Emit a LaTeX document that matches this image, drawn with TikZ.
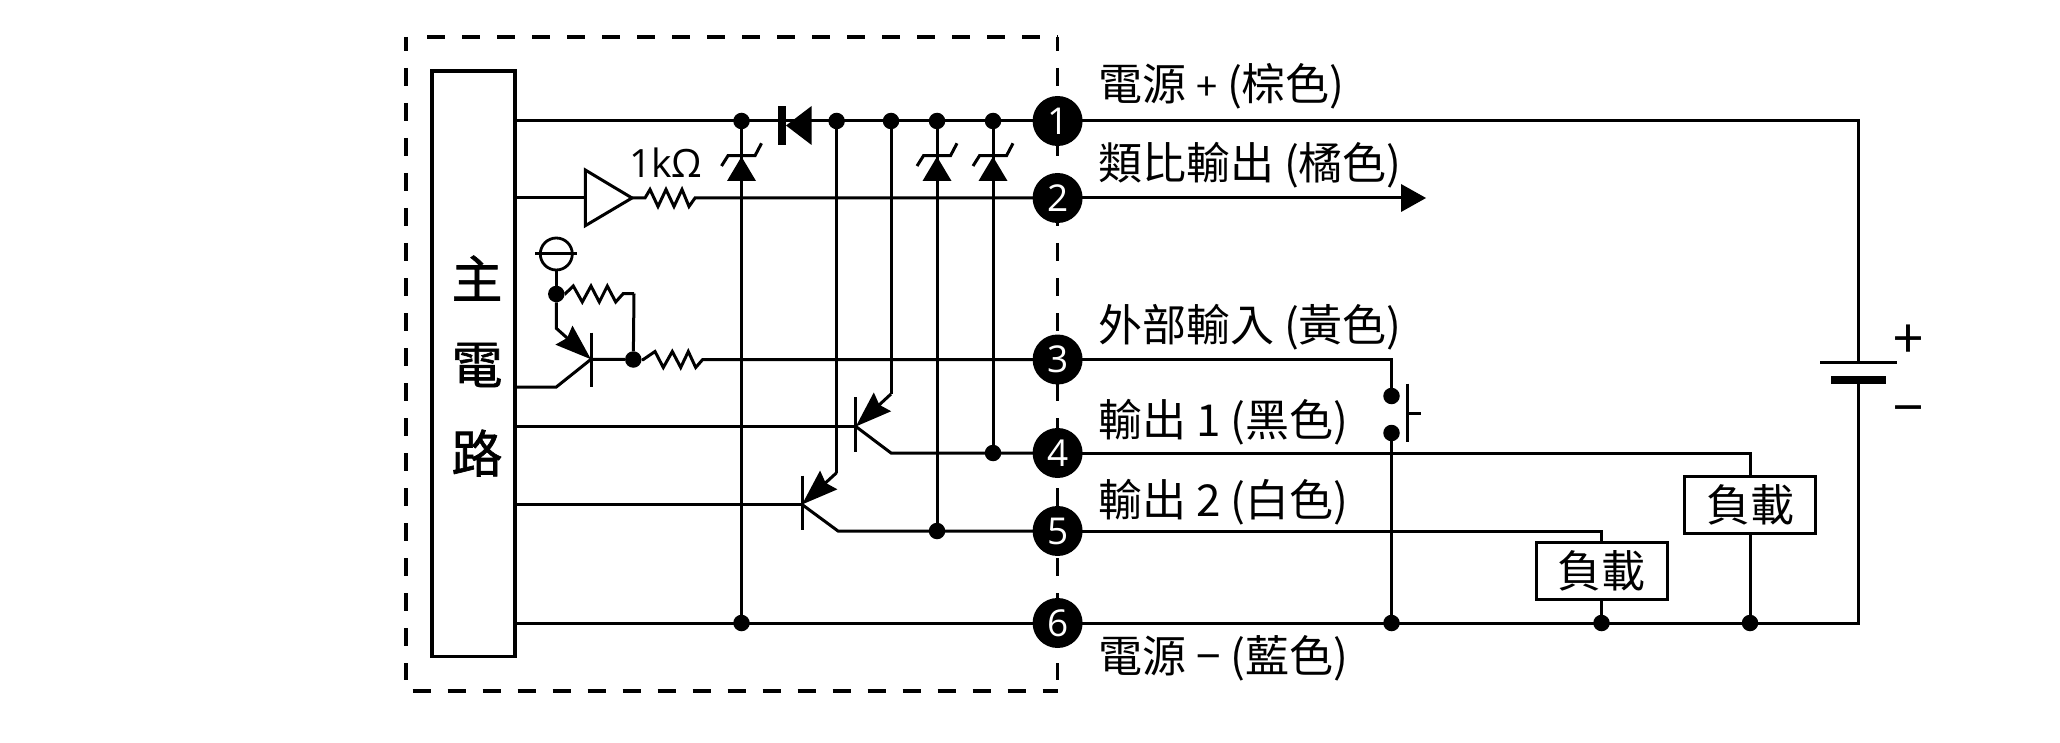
\documentclass[tikz,border=0pt]{standalone}
\usepackage{fontspec}
\usetikzlibrary{arrows.meta}
\setmainfont{Noto Sans CJK TC}
\newfontfamily\boldcjk[FakeBold=1.2]{Noto Sans CJK TC}
\newfontfamily\digits{Open Sans}
\tikzset{
  wire/.style={draw=black,line width=3pt,line join=miter},
  dashline/.style={draw=black,line width=3.2pt,dash pattern=on 18pt off 17pt},
  jn/.style={circle,fill=black,inner sep=0pt,minimum size=16.5pt},
  term/.style={circle,fill=black,text=white,inner sep=0pt,minimum size=50pt,font=\digits\fontsize{37}{37}\selectfont},
  lbl/.style={anchor=base west,inner sep=0pt,font=\fontsize{44}{44}\selectfont},
  loadbox/.style={draw=black,fill=white,line width=3pt,inner sep=0pt,minimum width=131pt,minimum height=57pt,font=\fontsize{44}{44}\selectfont},
  mainch/.style={inner sep=0pt,font=\boldcjk\fontsize{51}{51}\selectfont},
  emit/.style={wire,-{Stealth[length=36pt,width=25pt,inset=4pt]}},
  ztri/.style={fill=black},
}
\newcommand{\zenerat}[1]{%
  \fill[ztri] (#1-14.5,181) -- (#1+14.5,181) -- (#1,156.7) -- cycle;
  \draw[wire] (#1-20,166) -- (#1-13.5,155.7) -- (#1+13.5,155.7) -- (#1+20,143.3);
}
\begin{document}
\begin{tikzpicture}[x=1pt,y=-1pt]
\useasboundingbox (0,0) rectangle (2060,743);
\fill[white] (0,0) rectangle (2060,743);

% dashed outline
\draw[dashline] (427,37) -- (1058,37);
\draw[dashline,dash phase=4pt] (406,37) -- (406,680);
\draw[dashline,dash phase=4pt] (1057.6,37) -- (1057.6,680);
\draw[dashline] (412.5,691) -- (1058,691);

% main block
\node[draw=black,line width=3.4pt,inner sep=0pt,minimum width=83pt,minimum height=585pt] (mainc) at (473.5,363.7) {};
\node[mainch] (m1) at (477,278) {主};
\node[mainch] (m2) at (477,365) {電};
\node[mainch] (m3) at (477,453) {路};

% named points
\coordinate (L1) at (515,121);
\coordinate (L2) at (515,198);
\coordinate (L3) at (515,387);
\coordinate (L4) at (515,426.5);
\coordinate (L5) at (515,504.5);
\coordinate (L6) at (515,623);
\coordinate (b1) at (556.3,387);
\coordinate (qe) at (591,359.3);
\coordinate (qs) at (556.3,328.3);
\coordinate (r2s) at (634,293.5);
\coordinate (Te1) at (891,394);
\coordinate (Tb1) at (855.8,426.5);
\coordinate (Tc1) at (891,453);
\coordinate (Te2) at (836.6,472.7);
\coordinate (Tb2) at (802,504.5);
\coordinate (Tc2) at (838,531);
\coordinate (P1) at (1858.6,121);
\coordinate (P6) at (1858.6,623);
\coordinate (bat1) at (1858.6,362.9);
\coordinate (bat2) at (1858.6,379.8);
\coordinate (c3) at (1391.5,359.5);
\coordinate (c4) at (1750,453);
\coordinate (c5) at (1601.5,531);
\coordinate (arrowend) at (1426,198);

% junctions
\node[jn] (j1a) at (741.5,121) {};
\node[jn] (j1b) at (836.6,121) {};
\node[jn] (j1c) at (891,121) {};
\node[jn] (j1d) at (937,121) {};
\node[jn] (j1e) at (993,121) {};
\node[jn] (j6a) at (741.5,623) {};
\node[jn] (j4) at (993,453) {};
\node[jn] (j5) at (937,531) {};
\node[jn] (jr) at (556.3,294) {};
\node[jn] (jq) at (633.3,359.5) {};
\node[jn] (js1) at (1391.5,396) {};
\node[jn] (js2) at (1391.5,433) {};
\node[jn] (j6b) at (1391.5,623) {};
\node[jn] (j6c) at (1601.5,623) {};
\node[jn] (j6d) at (1750,623) {};

% load boxes
\node[loadbox] (la) at (1750,505) {負載};
\node[loadbox] (lb) at (1601.5,571) {負載};

% buffer
\node[inner sep=0pt] (bufin) at (585.3,198) {};
\coordinate (bufout) at (632,198);
\draw[wire,line join=miter] (585.3,170) -- (585.3,225.7) -- (bufout) -- cycle;

% terminals (wires first)
\coordinate (t1p) at (1057.6,121);
\coordinate (t2p) at (1057.6,198);
\coordinate (t3p) at (1057.6,359.5);
\coordinate (t4p) at (1057.6,453);
\coordinate (t5p) at (1057.6,531);
\coordinate (t6p) at (1057.6,623);

\draw[wire] (L1) -- (t1p) -- (P1) -- (bat1);
\draw[wire] (bat2) -- (P6) -- (t6p) -- (L6);
\draw[wire] (L2) -- (bufin);
\draw[wire] (bufout) -- (641,198) -- (645,198) -- (650,189.5) -- (658,206.5) -- (666,189.5) -- (674,206.5) -- (682,189.5) -- (689,206.5) -- (695,198) -- (t2p);
\draw[wire] (t2p) -- (1402,198);
\fill (1401,184) -- (arrowend) -- (1401,212) -- cycle;

% input stage
\draw[wire] (L3) -- (b1) -- (qe);
\draw[emit] (jr) -- (qs) -- (qe);
\draw[wire] (591,332.7) -- (591,386.7);
\draw[wire] (qe) -- (jq);
\draw[wire] (jq) -- (r2s);
\draw[wire] (jr) -- (565,294) -- (573.3,286) -- (582.3,302) -- (591,286) -- (599.3,302) -- (607.3,286) -- (615.7,302) -- (623.3,293.5) -- (r2s);
\draw[wire] (jq) -- (643.3,359.5) -- (655,351.5) -- (663.3,367.5) -- (672.3,351.5) -- (680.7,367.5) -- (688.3,351.5) -- (695.7,367.5) -- (702.7,359.5) -- (t3p);
\draw[wire] (t3p) -- (c3) -- (js1);
\draw[wire] (js2) -- (j6b);
\draw[wire] (1407.4,383.7) -- (1407.4,441.8);
\draw[wire] (1407.4,413) -- (1421,413);

% sensor symbol
\node[draw=black,circle,line width=2.8pt,inner sep=0pt,minimum size=32pt] (sens) at (556.3,254) {};
\coordinate (sl) at (535,254);
\coordinate (sr) at (577.3,254);
\draw[wire] (sl) -- (sr);
\draw[wire] (sens) -- (jr);

% vertical rails
\draw[wire] (j1a) -- (j6a);
\draw[wire] (j1b) -- (Te2 -| j1b);
\draw[wire] (j1c) -- (Te1 -| j1c);
\draw[wire] (j1d) -- (j5);
\draw[wire] (j1e) -- (j4);

% transistors
\draw[wire] (L4) -- (Tb1);
\draw[wire] (855.8,397.3) -- (855.8,452.3);
\draw[emit] (Te1) -- (Tb1);
\draw[wire] (Tb1) -- (Tc1) -- (t4p);
\draw[wire] (L5) -- (Tb2);
\draw[wire] (802,475.7) -- (802,530);
\draw[emit] (Te2) -- (Tb2);
\draw[wire] (Tb2) -- (Tc2) -- (t5p);

% outside outputs
\draw[wire] (t4p) -- (c4) -- (la);
\draw[wire] (la) -- (j6d);
\draw[wire] (t5p) -- (c5) -- (lb);
\draw[wire] (lb) -- (j6c);

% diode
\fill (777.5,106) rectangle (786,145);
\fill (786,125.5) -- (811.6,106) -- (811.6,145) -- cycle;

% zeners
\zenerat{741.5}
\zenerat{937}
\zenerat{993}

% battery
\draw[wire] (1820,362.9) -- (1897,362.9);
\fill (1831,375.8) rectangle (1886,383.8);
\node[inner sep=0pt,font=\fontsize{54}{54}\selectfont] (plus) at (1908,342) {+};
\node[inner sep=0pt,font=\fontsize{54}{54}\selectfont] (minus) at (1908,417) {−};

% terminals
\node[term] (t1) at (t1p) {1};
\node[term] (t2) at (t2p) {2};
\node[term] (t3) at (t3p) {3};
\node[term] (t4) at (t4p) {4};
\node[term] (t5) at (t5p) {5};
\node[term] (t6) at (t6p) {6};

% labels
\node[inner sep=0pt,anchor=base west,font=\digits\fontsize{39}{39}\selectfont] (rl) at (629,178) {1kΩ};
\node[lbl] (l1) at (1098,101) {電源 {\fontsize{38}{38}\selectfont +} (棕色)};
\node[lbl] (l2) at (1098,180) {類比輸出 (橘色)};
\node[lbl] (l3) at (1098,341.5) {外部輸入 (黃色)};
\node[lbl] (l4) at (1098,436) {輸出 1 (黑色)};
\node[lbl] (l5) at (1098,516.6) {輸出 2 (白色)};
\node[lbl] (l6) at (1098,672.6) {電源 − (藍色)};
\end{tikzpicture}
\end{document}
